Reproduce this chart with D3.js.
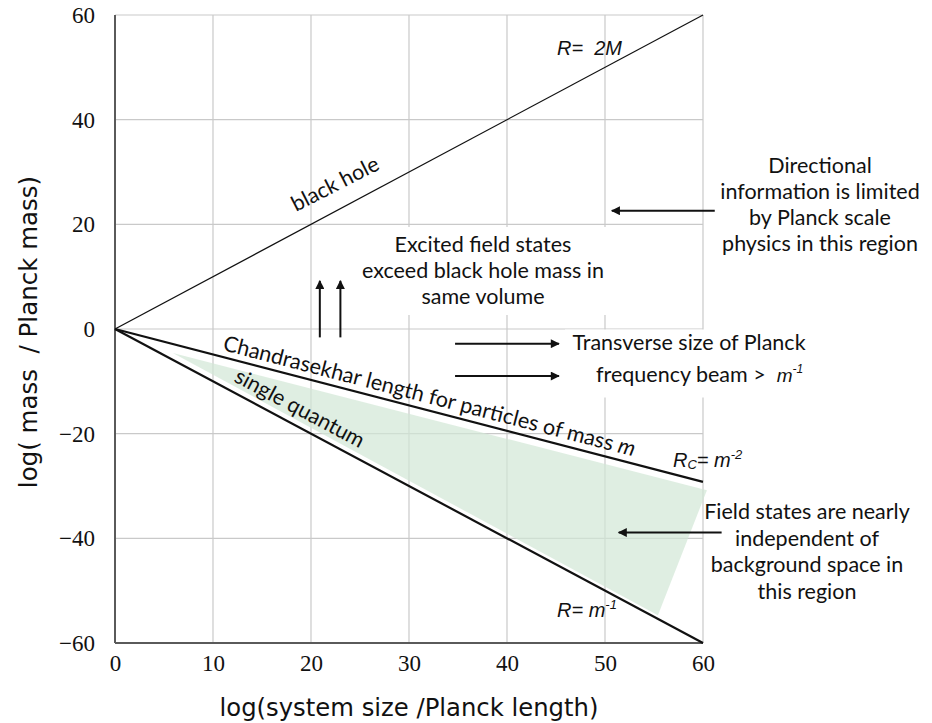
<!DOCTYPE html>
<html>
<head>
<meta charset="utf-8">
<script src="https://cdn.jsdelivr.net/npm/d3@7"></script>
<style>
  html, body { margin: 0; padding: 0; background: #fff; }
  svg { display: block; }
  text { white-space: pre; }
  .ann { font-family: Lato, "Open Sans", sans-serif; fill: #111; }
  .lbl { font-family: "Liberation Sans", Arial, sans-serif; font-style: italic; fill: #111; }
</style>
</head>
<body>
<svg id="chart" width="932" height="723"></svg>
<script>
// ---------- data ----------
const xTicks = [0, 10, 20, 30, 40, 50, 60];
const yTicks = [-60, -40, -20, 0, 20, 40, 60];
const blackHoleLine = [[0, 0], [60, 60]];          // R = 2M
const chandraLine   = [[0, 0], [60, -29.2]];       // Rc = m^-2
const quantumLine   = [[0, 0], [60, -60]];         // R = m^-1
const greenRegion   = [[5.9, -4.6], [60.4, -30.8], [55.4, -54.7]];
// arrows: [x1, y1, x2, y2] in data units (tail -> head)
const upArrows    = [[20.9, -1.6, 20.9, 9.2], [23.0, -1.6, 23.0, 9.2]];
const rightArrows = [[34.7, -2.8, 45.3, -2.8], [34.7, -9.0, 45.3, -9.0]];
const leftArrows  = [[61.2, 22.6, 50.7, 22.6], [61.9, -38.9, 51.4, -38.9]];
const excitedText     = ["Excited field states", "exceed black hole mass in", "same volume"];
const directionalText = ["Directional", "information is limited", "by Planck scale", "physics in this region"];
const fieldText       = ["Field states are nearly", "independent of", "background space in", "this region"];
const transverseText  = ["Transverse size of Planck", "frequency beam >  "];

// ---------- scales ----------
const svg = d3.select("#chart");
const x = d3.scaleLinear().domain([0, 60]).range([115, 703]);
const y = d3.scaleLinear().domain([-60, 60]).range([643, 15]);

// grid
const grid = svg.append("g");
grid.selectAll("line.v").data(xTicks.filter(d => d !== 0)).join("line")
  .attr("x1", d => x(d)).attr("x2", d => x(d)).attr("y1", y(-60)).attr("y2", y(60))
  .attr("stroke", "#c9c9c9").attr("stroke-width", 1.2);
grid.selectAll("line.h").data(yTicks.filter(d => d !== -60)).join("line")
  .attr("x1", x(0)).attr("x2", x(60)).attr("y1", d => y(d)).attr("y2", d => y(d))
  .attr("stroke", "#c9c9c9").attr("stroke-width", 1.2);

// green region
svg.append("path")
  .attr("d", d3.line().x(d => x(d[0])).y(d => y(d[1]))(greenRegion) + "Z")
  .attr("fill", "#d2e7d6").attr("fill-opacity", 0.7);

// white boxes behind text blocks that hide grid
svg.append("rect").attr("x", 370).attr("y", 227).attr("width", 275).attr("height", 88).attr("fill", "#fff");
svg.append("rect").attr("x", 565).attr("y", 329.5).attr("width", 280).attr("height", 68).attr("fill", "#fff");

// axes
const xAxis = d3.axisBottom(x).tickValues(xTicks).tickSize(0).tickPadding(12).tickFormat(d3.format("d"));
const yAxis = d3.axisLeft(y).tickValues(yTicks).tickSize(0).tickPadding(20).tickFormat(d => d < 0 ? "\u2212" + Math.abs(d) : d);
const gx = svg.append("g").attr("transform", `translate(0,${y(-60)})`).call(xAxis);
const gy = svg.append("g").attr("transform", `translate(${x(0)},0)`).call(yAxis);
gx.select(".domain").attr("d", `M${x(0)},0H${x(60)}`).attr("stroke", "#5a5a5a").attr("stroke-width", 2);
gy.select(".domain").attr("d", `M0,${y(-60)}V${y(60)}`).attr("stroke", "#5a5a5a").attr("stroke-width", 2);
svg.selectAll(".tick text")
  .style("font-family", "'Liberation Serif', 'Times New Roman', serif")
  .style("font-size", "23px")
  .style("fill", "#111");

// axis titles
svg.append("text").attr("x", (x(0) + x(60)) / 2).attr("y", 716)
  .attr("text-anchor", "middle").style("font-family", "'DejaVu Sans', sans-serif").style("font-size", "24.3px")
  .attr("fill", "#111").text("log(system size /Planck length)");
svg.append("text").attr("transform", `translate(37,${y(0) + 3}) rotate(-90)`)
  .attr("text-anchor", "middle").style("font-family", "'DejaVu Sans', sans-serif").style("font-size", "24.5px")
  .attr("fill", "#111").text("log( mass  / Planck mass)");

// lines
const line = d3.line().x(d => x(d[0])).y(d => y(d[1]));
svg.append("path").attr("d", line(blackHoleLine)).attr("stroke", "#111").attr("stroke-width", 1.2).attr("fill", "none");
svg.append("path").attr("d", line(chandraLine)).attr("stroke", "#111").attr("stroke-width", 2.2).attr("fill", "none");
svg.append("path").attr("d", line(quantumLine)).attr("stroke", "#111").attr("stroke-width", 2.2).attr("fill", "none");

// arrow marker
svg.append("defs").append("marker").attr("id", "ah")
  .attr("viewBox", "0 0 10 10").attr("refX", 9).attr("refY", 5)
  .attr("markerWidth", 13).attr("markerHeight", 9).attr("markerUnits", "userSpaceOnUse")
  .attr("orient", "auto")
  .append("path").attr("d", "M0,0L10,5L0,10Z").attr("fill", "#111");
svg.selectAll("line.arrow").data([...upArrows, ...rightArrows, ...leftArrows]).join("line")
  .attr("class", "arrow")
  .attr("x1", d => x(d[0])).attr("y1", d => y(d[1])).attr("x2", d => x(d[2])).attr("y2", d => y(d[3]))
  .attr("stroke", "#111").attr("stroke-width", 2).attr("marker-end", "url(#ah)");

// text blocks
function block(lines, cx, y0, dy, size) {
  const t = svg.append("text").attr("class", "ann").attr("text-anchor", "middle").style("font-size", size + "px");
  lines.forEach((s, i) => t.append("tspan").attr("x", cx).attr("y", y0 + i * dy).text(s));
  return t;
}
block(excitedText, 483, 252, 26, 21.5);
block(directionalText, 820, 173, 26, 21.5);
block(fieldText, 807, 519, 26.5, 21.5);
block(transverseText.slice(0, 1), 689, 350, 0, 21.5);
const t2 = svg.append("text").attr("class", "ann").style("font-size", "21.5px").attr("x", 596).attr("y", 381.5);
t2.append("tspan").text(transverseText[1]);
t2.append("tspan").style("font-style", "italic").style("font-family", "'Liberation Sans', sans-serif").style("font-size", "19px").text("m");
t2.append("tspan").style("font-size", "12px").attr("dy", -9).style("font-style", "italic").style("font-family", "'Liberation Sans', sans-serif").text("-1");

// rotated curve labels
svg.append("text").attr("class", "ann").style("font-size", "21.5px")
  .attr("transform", "translate(296,212) rotate(-27)").text("black hole");
const ch = svg.append("text").attr("class", "ann").style("font-size", "21.6px")
  .attr("transform", "translate(222,350) rotate(14.5)");
ch.append("tspan").text("Chandrasekhar length for particles of mass ");
ch.append("tspan").style("font-style", "italic").text("m");
svg.append("text").attr("class", "ann").style("font-size", "21.5px")
  .attr("transform", "translate(233,381) rotate(28)").text("single quantum");

// formula labels
svg.append("text").attr("class", "lbl").style("font-size", "20px").attr("x", 557).attr("y", 55).text("R=  2M");
const rc = svg.append("text").attr("class", "lbl").style("font-size", "20px").attr("x", 673).attr("y", 467);
rc.append("tspan").text("R");
rc.append("tspan").style("font-size", "13px").attr("dy", 2).text("C");
rc.append("tspan").attr("dy", -2).text("= m");
rc.append("tspan").style("font-size", "13px").attr("dy", -8).text("-2");
const rm = svg.append("text").attr("class", "lbl").style("font-size", "20px").attr("x", 557).attr("y", 617);
rm.append("tspan").text("R= m");
rm.append("tspan").style("font-size", "13px").attr("dy", -8).text("-1");
</script>
</body>
</html>
